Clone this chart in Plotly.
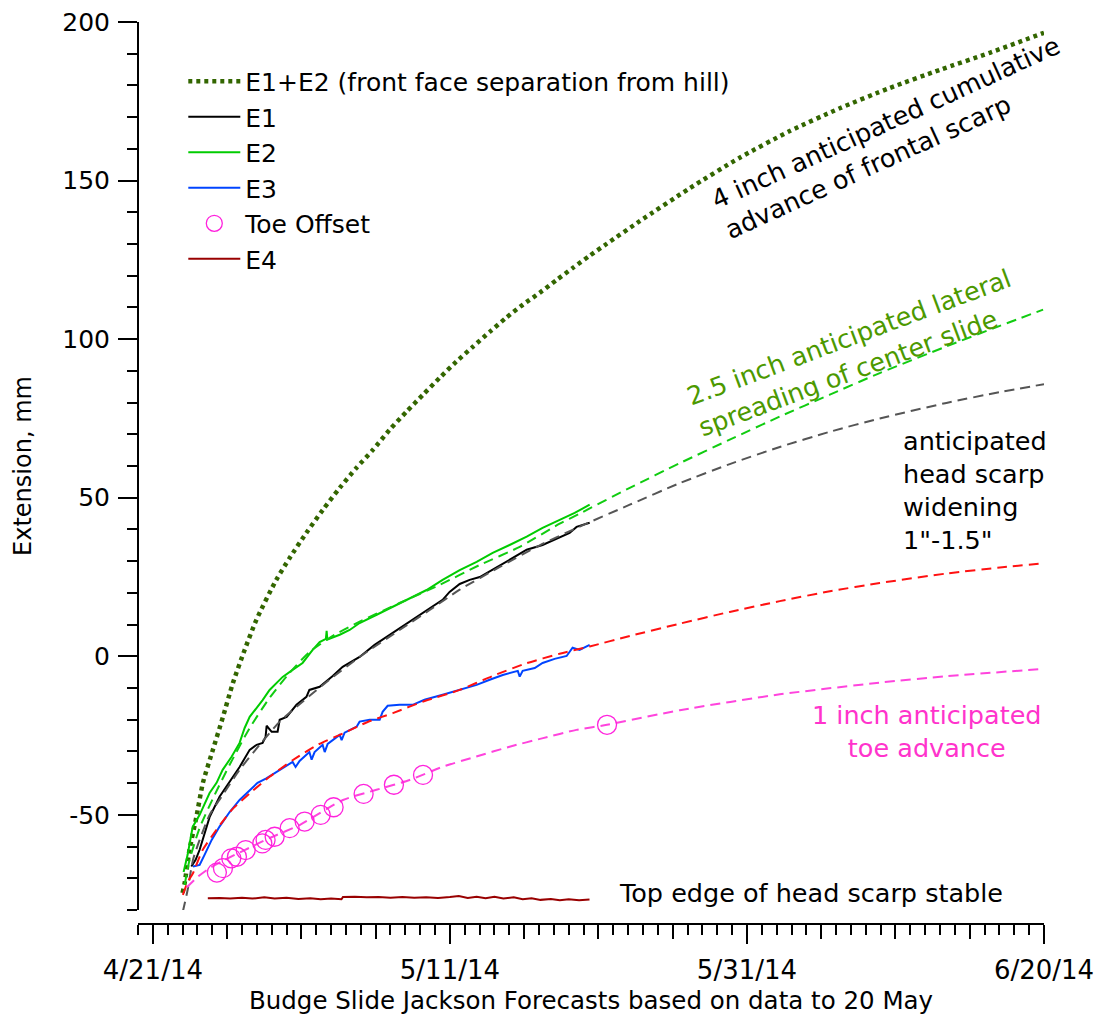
import pandas as pd
import plotly.graph_objects as go

BASE = pd.Timestamp("2014-04-20")

def to_dates(days):
    return [BASE + pd.Timedelta(days=d) for d in days]

# ---------------- data (days after 2014-04-20, extension in mm) ----------------
e12_day = [3.00, 3.14, 3.47, 3.93, 4.37, 5.04, 5.72, 6.39, 7.18, 7.97, 9.31, 10.21, 11.33, 12.45,
           13.58, 14.70, 15.82, 16.94, 18.07, 19.19, 20.31, 21.43, 22.55, 23.68, 24.80, 25.92,
           27.04, 28.17, 29.29, 30.41, 31.54, 33.78, 37.15, 40.51, 43.88, 47.25, 50.61, 53.98,
           57.35, 61.0]
e12_mm = [-74.6, -71.5, -61.0, -50.7, -39.9, -29.5, -19.1, -8.4, 2.0, 11.5, 24.1, 31.0, 38.9, 46.2,
          53.1, 59.4, 65.1, 71.4, 77.1, 82.5, 87.8, 92.9, 97.6, 102.3, 106.8, 110.9,
          114.6, 118.6, 122.5, 126.3, 130.0, 137.2, 147.6, 157.2, 165.6, 172.8, 179.2, 184.9,
          190.3, 196.6]

e1_day = [3.59, 3.88, 4.15, 4.48, 4.82, 5.49, 6.17, 6.84, 7.52, 7.99, 8.39, 8.59, 8.66, 9.00,
          9.40, 9.54, 10.01, 10.67, 11.34, 11.54, 12.23, 13.11, 13.78, 14.92, 15.93, 16.74,
          17.61, 18.49, 19.50, 20.51, 20.98, 21.66, 22.33, 23.01, 23.88, 25.02, 26.17, 27.24,
          28.39, 29.06, 29.53, 30.41]
e1_mm = [-66.3, -64.2, -61.0, -56.3, -50.7, -44.3, -39.6, -34.9, -29.5, -27.9, -27.3, -25.4, -21.9,
         -23.8, -23.8, -20.0, -19.1, -15.3, -12.8, -10.6, -9.6, -6.2, -3.3, -0.2, 3.6, 6.1,
         8.9, 11.5, 14.6, 17.8, 20.3, 22.8, 24.1, 25.0, 27.3, 30.4, 33.6, 35.1,
         37.4, 38.9, 40.8, 42.1]

e2_day = [3.07, 3.34, 3.68, 4.15, 4.82, 5.29, 5.70, 6.30, 6.84, 7.18, 7.52, 7.99, 8.39, 8.86,
          9.33, 9.74, 10.41, 11.08, 11.76, 12.23, 12.65, 12.70, 12.75, 13.58, 14.25, 14.92,
          16.07, 17.15, 18.29, 19.43, 20.51, 21.66, 22.80, 23.88, 25.02, 26.17, 27.24, 28.39,
          29.40, 30.41]
e2_mm = [-68.0, -62.6, -53.8, -50.0, -43.1, -39.9, -35.8, -31.7, -27.3, -22.6, -19.1, -16.3, -13.8,
         -10.6, -8.4, -6.5, -4.3, -2.1, 2.0, 4.5, 5.5, 8.0, 5.3, 6.8, 8.3, 10.5,
         13.1, 15.6, 18.4, 20.9, 24.1, 27.2, 29.8, 32.6, 35.1, 37.7, 40.5, 43.0,
         45.2, 47.8]

e3_day = [3.70, 4.15, 4.48, 4.96, 5.49, 6.17, 6.84, 7.52, 8.05, 8.64, 9.54, 10.41, 10.61, 10.88,
          11.54, 11.69, 11.89, 12.43, 12.57, 12.77, 13.58, 13.71, 13.91, 14.72, 14.92, 15.60,
          16.27, 16.47, 16.81, 17.61, 18.49, 19.29, 20.51, 21.66, 22.80, 23.68, 24.56, 25.57,
          25.70, 25.90, 26.71, 27.24, 28.05, 28.86, 29.26, 29.73, 30.41]
e3_mm = [-66.3, -65.8, -62.6, -57.9, -53.7, -49.1, -45.3, -42.1, -39.9, -38.5, -35.8, -33.3, -34.9,
         -33.0, -30.2, -32.6, -30.2, -27.9, -30.2, -27.6, -24.8, -26.4, -24.1, -22.2, -20.6,
         -20.0, -20.0, -17.5, -15.6, -15.3, -15.3, -13.7, -12.1, -10.6, -9.0, -7.4, -5.9, -4.6,
         -6.4, -4.6, -3.7, -2.1, -0.8, 0.1, 2.7, 2.0, 3.6]

e4_day = [4.7, 5.5, 6.2, 7.0, 7.7, 8.5, 9.2, 10.0, 10.8, 11.6, 12.3, 13.0, 13.7, 13.8, 14.6, 15.4,
          16.2, 17.0, 17.8, 18.6, 19.4, 20.2, 21.0, 21.6, 22.2, 22.8, 23.4, 24.0, 24.6, 25.3,
          25.9, 26.5, 27.1, 27.8, 28.4, 29.0, 29.7, 30.4]
e4_mm = [-76.3, -76.2, -76.4, -76.1, -76.4, -76.0, -76.4, -76.1, -76.5, -76.3, -76.6, -76.4,
         -76.6, -75.9, -75.8, -76.0, -75.9, -76.1, -75.9, -76.1, -76.0, -76.2, -75.9, -75.6,
         -76.2, -75.8, -76.3, -75.8, -76.4, -76.0, -76.6, -76.3, -76.8, -76.5, -76.9, -76.6,
         -76.9, -76.7]

toe_day = [5.31, 5.72, 6.28, 6.66, 7.25, 8.37, 8.59, 9.20, 10.21, 11.22, 12.30, 13.17, 15.19,
           17.23, 19.19, 31.58]
toe_mm = [-68.2, -66.8, -63.7, -63.2, -61.1, -59.0, -57.9, -56.9, -54.2, -52.1, -50.0, -47.6,
          -43.4, -40.5, -37.4, -21.6]

# forecasts
e1f_day = [3.02, 3.34, 3.70, 4.15, 4.82, 5.49, 6.84, 8.19, 9.54, 11.08, 12.89, 14.92, 17.61,
           19.64, 21.66, 24.36, 27.05, 29.74, 33.11, 36.48, 39.84, 43.21, 46.58, 49.94, 54.43,
           58.03, 61.0]
e1f_mm = [-80.5, -73.7, -64.2, -57.9, -50.0, -45.2, -35.8, -27.9, -20.6, -14.3, -7.4, -0.2, 8.3,
          14.6, 21.0, 28.2, 35.0, 40.9, 47.8, 54.6, 60.6, 66.0, 70.8, 75.0, 79.9, 83.3, 85.8]

e2f_day = [3.14, 3.47, 4.15, 5.16, 6.17, 7.52, 8.86, 10.21, 11.56, 13.24, 14.92, 17.61, 20.31,
           23.01, 25.70, 28.39, 29.74, 33.11, 36.48, 39.84, 43.21, 46.58, 49.94, 54.43, 58.03,
           60.94]
e2f_mm = [-72.1, -64.2, -54.1, -43.7, -34.2, -22.6, -13.1, -5.2, 1.4, 6.8, 10.9, 16.8, 22.5, 28.8,
          34.5, 41.8, 45.0, 53.1, 60.9, 68.3, 75.6, 82.5, 89.3, 97.7, 104.2, 109.3]

e3f_day = [3.02, 3.34, 3.70, 4.35, 5.27, 6.30, 7.52, 8.86, 10.43, 12.09, 13.80, 15.46, 17.16,
           19.30, 21.66, 23.88, 26.15, 28.39, 30.41, 33.11, 36.48, 39.84, 43.21, 46.58, 49.94,
           54.43, 58.03, 60.94]
e3f_mm = [-75.2, -71.2, -68.4, -61.1, -54.8, -48.5, -43.2, -38.0, -32.7, -27.9, -24.3, -20.7,
          -17.9, -14.1, -10.6, -6.2, -2.2, 0.8, 3.1, 6.4, 10.3, 14.0, 17.4, 20.5, 23.1, 26.1,
          28.0, 29.3]

toef_day = [3.29, 4.03, 4.82, 5.83, 7.18, 8.86, 10.88, 13.80, 16.05, 18.29, 20.53, 22.78, 25.02,
            27.27, 29.52, 31.58, 36.48, 43.21, 49.94, 54.43, 60.83]
toef_mm = [-72.8, -69.5, -66.8, -64.2, -61.1, -57.3, -53.2, -45.3, -42.1, -39.0, -34.8, -31.6,
           -28.5, -25.8, -23.2, -21.6, -17.0, -12.0, -8.3, -6.3, -4.0]

y_tick_vals = [-50, 0, 50, 100, 150, 200]
y_tick_text = ["-50", "0", "50", "100", "150", "200"]

FONT = "DejaVu Sans"
DASH = "10px,6px"

fig = go.Figure()

fig.add_trace(go.Scatter(x=to_dates(e12_day), y=e12_mm, mode="lines", name="E1+E2 (front face separation from hill)",
                         line=dict(color="#336600", width=4.5, dash="4px,4px", shape="spline", smoothing=0.6),
                         legendrank=1))
fig.add_trace(go.Scatter(x=to_dates(e1_day), y=e1_mm, mode="lines", name="E1",
                         line=dict(color="#000000", width=2), legendrank=2))
fig.add_trace(go.Scatter(x=to_dates(e2_day), y=e2_mm, mode="lines", name="E2",
                         line=dict(color="#00cc00", width=2), legendrank=3))
fig.add_trace(go.Scatter(x=to_dates(e3_day), y=e3_mm, mode="lines", name="E3",
                         line=dict(color="#0044ff", width=2), legendrank=4))
fig.add_trace(go.Scatter(x=to_dates(e4_day), y=e4_mm, mode="lines", name="E4",
                         line=dict(color="#990000", width=2), legendrank=6))

fig.add_trace(go.Scatter(x=to_dates(e1f_day), y=e1f_mm, mode="lines", showlegend=False,
                         line=dict(color="#555555", width=2, dash=DASH, shape="spline", smoothing=0.6)))
fig.add_trace(go.Scatter(x=to_dates(e2f_day), y=e2f_mm, mode="lines", showlegend=False,
                         line=dict(color="#11cc11", width=2, dash=DASH, shape="spline", smoothing=0.6)))
fig.add_trace(go.Scatter(x=to_dates(e3f_day), y=e3f_mm, mode="lines", showlegend=False,
                         line=dict(color="#ff1111", width=2, dash=DASH, shape="spline", smoothing=0.6)))
fig.add_trace(go.Scatter(x=to_dates(toef_day), y=toef_mm, mode="lines", showlegend=False,
                         line=dict(color="#ff44dd", width=2, dash=DASH, shape="spline", smoothing=0.6)))
fig.add_trace(go.Scatter(x=to_dates(toe_day), y=toe_mm, mode="markers", name="Toe Offset",
                         marker=dict(symbol="circle-open", size=19, color="#ff22dd", line=dict(width=1.3)),
                         legendrank=5))
# helper axis for the 5-day ticks
fig.add_trace(go.Scatter(x=[], y=[], xaxis="x2", showlegend=False))

x_range = ["2014-04-20", "2014-06-20"]
DAY = 86400000

fig.update_layout(
    width=1092, height=1007,
    margin=dict(l=130, r=56, t=14, b=91, autoexpand=False),
    paper_bgcolor="white", plot_bgcolor="white",
    font=dict(family=FONT, size=25, color="black"),
    showlegend=True,
    legend=dict(x=0.05, y=0.9595, xanchor="left", yanchor="top", bgcolor="rgba(0,0,0,0)",
                font=dict(size=25, family=FONT), traceorder="normal", itemwidth=52),
    xaxis=dict(range=x_range, type="date", anchor="free", position=0, domain=[0, 1], automargin=False,
               showgrid=False, zeroline=False, showline=True, linecolor="black", linewidth=2,
               tickmode="linear", tick0="2014-04-21", dtick=20 * DAY, tickformat="%-m/%-d/%y",
               ticks="outside", ticklen=19, tickwidth=2, tickcolor="black",
               ticklabelstandoff=4, tickfont=dict(size=26), ticklabeloverflow="allow",
               minor=dict(dtick=DAY, tick0="2014-04-20", ticks="outside", ticklen=10, tickwidth=2, tickcolor="black"),
               title=dict(text="Budge Slide Jackson Forecasts based on data to 20 May", font=dict(size=24.5), standoff=8)),
    xaxis2=dict(range=x_range, type="date", overlaying="x", anchor="free", position=0, side="bottom",
                automargin=False,
                showgrid=False, zeroline=False, showline=False, showticklabels=False,
                tickmode="linear", tick0="2014-04-21", dtick=5 * DAY,
                ticks="outside", ticklen=14, tickwidth=2, tickcolor="black"),
    yaxis=dict(range=[-80, 200], domain=[0.0155, 1], anchor="free", position=0, automargin=False,
               showgrid=False, zeroline=False, showline=True, linecolor="black", linewidth=2,
               tickmode="array", tickvals=y_tick_vals, ticktext=y_tick_text,
               ticks="outside", ticklen=19, tickwidth=2, tickcolor="black", ticklabelstandoff=3,
               tickfont=dict(size=25), ticklabeloverflow="allow",
               minor=dict(tickmode="linear", tick0=0, dtick=10, ticks="outside", ticklen=10, tickwidth=2, tickcolor="black"),
               title=dict(text="Extension, mm", font=dict(size=24), standoff=23)),
)

def ann(day, val, text, color="black", angle=0, xanchor="center", align="center", size=25.5):
    fig.add_annotation(x=BASE + pd.Timedelta(days=day), y=val, xref="x", yref="y", text=text,
                       showarrow=False, textangle=angle, xanchor=xanchor, yanchor="middle", align=align,
                       font=dict(family=FONT, size=size, color=color))

ann(50.8, 163.5, "4 inch anticipated cumulative<br>advance of frontal scarp", angle=-24.5, align="left")
ann(48.29, 95.7, "2.5 inch anticipated lateral<br>spreading of center slide", color="#4c9900", angle=-20.5, align="left")
ann(51.35, 52.3, "anticipated<br>head scarp<br>widening<br>1\"-1.5\"", xanchor="left", align="left")
ann(53.1, -23.8, "1 inch anticipated<br>toe advance", color="#ff33cc")
ann(32.23, -74.6, "Top edge of head scarp stable", xanchor="left", align="left")

fig.write_html("out.html")
